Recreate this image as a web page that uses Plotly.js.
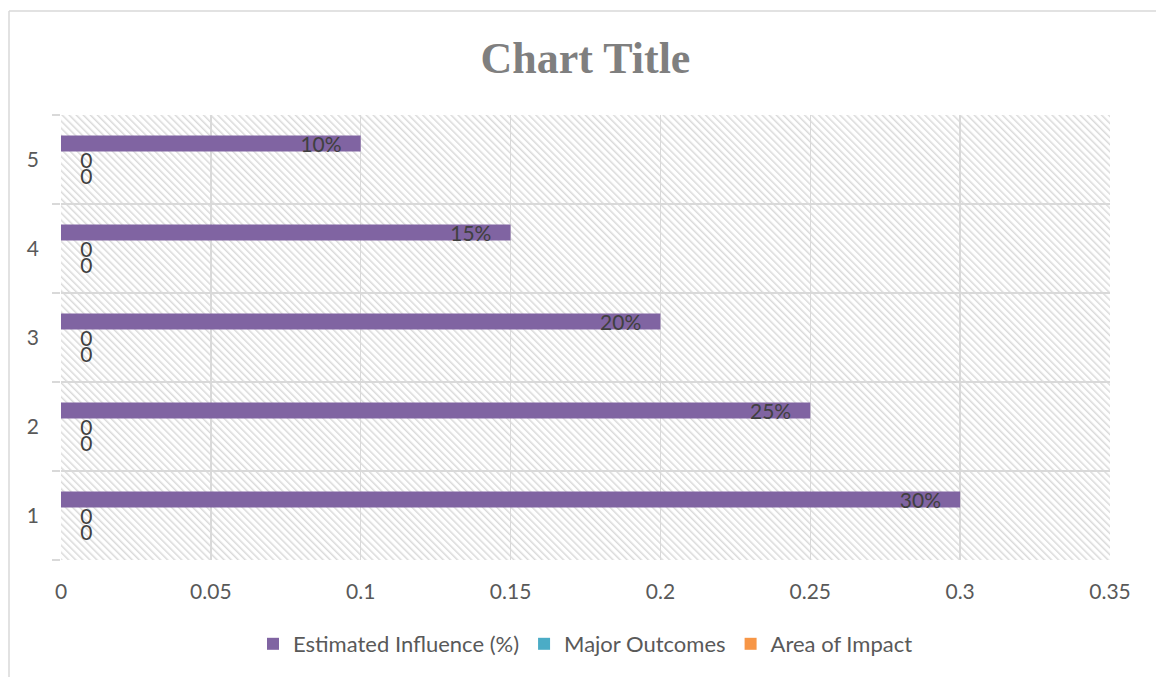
<!DOCTYPE html>
<html>
<head>
<meta charset="utf-8">
<script src="https://cdn.plot.ly/plotly-3.0.1.min.js"></script>
<style>
  html, body { margin: 0; padding: 0; background: #ffffff; }
  #chart { width: 1156px; height: 677px; }
</style>
</head>
<body>
<div id="chart"></div>
<script>
// ---- Data ----
const categories = ['1', '2', '3', '4', '5'];
const estimatedInfluence = [0.30, 0.25, 0.20, 0.15, 0.10];
const majorOutcomes = [0, 0, 0, 0, 0];
const areaOfImpact = [0, 0, 0, 0, 0];
const seriesNames = ['Estimated Influence (%)', 'Major Outcomes', 'Area of Impact'];
const xTickVals = [0, 0.05, 0.1, 0.15, 0.2, 0.25, 0.3, 0.35];
const xTickText = ['0', '0.05', '0.1', '0.15', '0.2', '0.25', '0.3', '0.35'];

// ---- Styling ----
const W = 1156, H = 677;
const M = { l: 61, r: 46, t: 115, b: 117 };
const PW = W - M.l - M.r, PH = H - M.t - M.b;
const textColor = '#595959';
const labelColor = '#404040';
const gridColor = '#d9d9d9';
const fontFam = 'Lato, "Open Sans", sans-serif';
const NB = '\u00a0';

// hatch background for plot area
const hatchSvg =
  '<svg xmlns="http://www.w3.org/2000/svg" width="' + PW + '" height="' + PH + '">' +
  '<defs><pattern id="h" patternUnits="userSpaceOnUse" width="5" height="5" patternTransform="rotate(-45)">' +
  '<rect x="0" y="0" width="1.5" height="5" fill="#dadada"/></pattern></defs>' +
  '<rect width="100%" height="100%" fill="#ffffff"/>' +
  '<rect width="100%" height="100%" fill="url(#h)"/></svg>';
const hatchUri = 'data:image/svg+xml;charset=utf-8,' + encodeURIComponent(hatchSvg);

function barTrace(name, values, color, isPct) {
  const allZero = values.every(v => v === 0);
  return {
    type: 'bar',
    orientation: 'h',
    name: name,
    y: categories,
    x: values,
    marker: { color: color },
    // padding spaces only mimic Excel's label offsets
    text: values.map(v => isPct ? Math.round(v * 100) + '%' + NB.repeat(3) : NB.repeat(3) + String(v)),
    texttemplate: '%{text}',
    textposition: allZero ? 'outside' : 'inside',
    insidetextanchor: 'end',
    constraintext: 'none',
    cliponaxis: false,
    textfont: { family: fontFam, size: 21, color: labelColor },
    insidetextfont: { family: fontFam, size: 21, color: labelColor },
    outsidetextfont: { family: fontFam, size: 21, color: labelColor },
    hoverinfo: 'x+name'
  };
}

const data = [
  barTrace(seriesNames[2], areaOfImpact, '#F79646', false),
  barTrace(seriesNames[1], majorOutcomes, '#4BACC6', false),
  barTrace(seriesNames[0], estimatedInfluence, '#8064A2', true)
];

const pxX = px => (px - M.l) / PW;
const pxY = py => (H - M.b - py) / PH;

const layout = {
  width: W,
  height: H,
  margin: M,
  paper_bgcolor: '#ffffff',
  plot_bgcolor: 'rgba(0,0,0,0)',
  barmode: 'group',
  bargap: 0.46,
  bargroupgap: 0,
  showlegend: true,
  title: {
    text: 'Chart Title',
    font: { family: '"Liberation Serif", serif', size: 44, color: '#7f7f7f', weight: 'bold' },
    x: 0.5, xref: 'paper', xanchor: 'center',
    y: 1 - 58 / H, yref: 'container', yanchor: 'middle'
  },
  xaxis: {
    range: [0, 0.35],
    tickvals: xTickVals,
    ticktext: xTickText,
    showgrid: true,
    gridcolor: gridColor,
    gridwidth: 1.5,
    zeroline: false,
    showline: false,
    ticks: '',
    ticklabelstandoff: 17,
    tickfont: { family: fontFam, size: 21, color: textColor },
    fixedrange: true
  },
  yaxis: {
    type: 'category',
    categoryorder: 'array',
    categoryarray: categories,
    tickson: 'boundaries',
    showgrid: true,
    gridcolor: gridColor,
    gridwidth: 1.5,
    zeroline: false,
    showline: false,
    ticks: 'outside',
    ticklen: 8,
    tickcolor: gridColor,
    tickwidth: 1.5,
    ticklabelstandoff: 21,
    tickfont: { family: fontFam, size: 21, color: textColor },
    fixedrange: true
  },
  legend: {
    orientation: 'h',
    traceorder: 'reversed',
    x: 0.5, xanchor: 'center',
    y: pxY(644), yanchor: 'middle',
    font: { family: fontFam, size: 22, color: textColor },
    bgcolor: 'rgba(0,0,0,0)'
  },
  images: [{
    source: hatchUri,
    xref: 'paper', yref: 'paper',
    x: 0, y: 1, sizex: 1, sizey: 1,
    xanchor: 'left', yanchor: 'top',
    sizing: 'stretch',
    layer: 'below'
  }],
  shapes: [
    { type: 'line', xref: 'paper', yref: 'paper',
      x0: pxX(9), x1: pxX(W + 20), y0: pxY(11), y1: pxY(11),
      line: { color: gridColor, width: 1.5 } },
    { type: 'line', xref: 'paper', yref: 'paper',
      x0: pxX(9), x1: pxX(9), y0: pxY(11), y1: pxY(H + 20),
      line: { color: gridColor, width: 1.5 } }
  ]
};

Plotly.newPlot('chart', data, layout, { displayModeBar: false, staticPlot: true });
</script>
</body>
</html>
